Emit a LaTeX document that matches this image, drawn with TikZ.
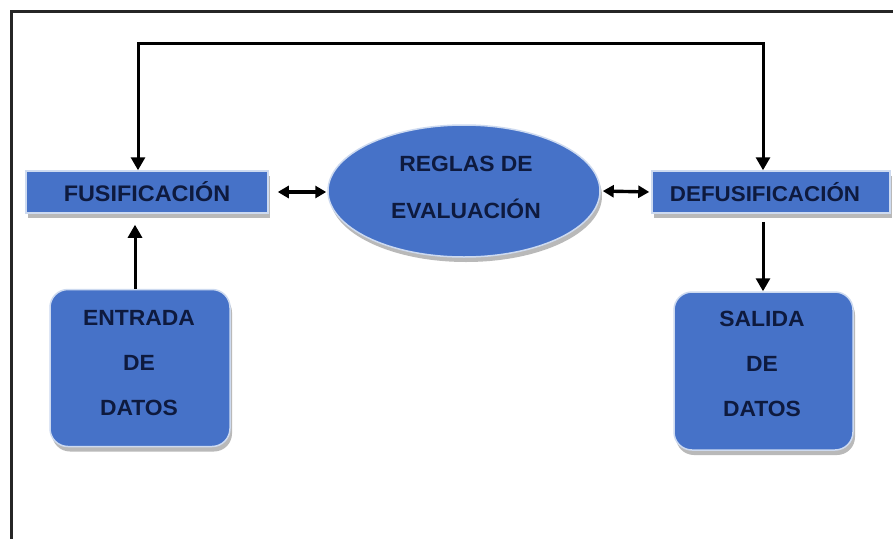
\documentclass[tikz,border=0pt]{standalone}
\usepackage{fontspec}
\newfontfamily\dfont[FakeStretch=1.04]{Liberation Sans}
\usetikzlibrary{arrows.meta,shapes.geometric,shadows}
\definecolor{boxblue}{RGB}{70,114,200}
\definecolor{txtnavy}{RGB}{14,26,62}
\definecolor{edgeblue}{RGB}{205,218,240}
\tikzset{
  blk/.style={fill=boxblue, draw=edgeblue, line width=1.5pt, text=txtnavy,
    drop shadow={shadow xshift=2pt, shadow yshift=-5pt, fill=gray!55, opacity=1}},
  bar/.style={blk, rectangle, inner sep=0pt, minimum height=42pt},
  rbox/.style={blk, rectangle, rounded corners=18pt, inner sep=0pt,
    minimum width=180pt, minimum height=157pt},
  oval/.style={blk, ellipse, inner sep=0pt, minimum width=272pt, minimum height=132pt},
  mltext/.style={align=center, inner sep=0pt, text=txtnavy,
    font=\dfont\bfseries\fontsize{22}{45}\selectfont},
  arr/.style={line width=3pt, draw=black, -{Triangle[length=13pt,width=14pt]}},
  darr/.style={line width=3pt, draw=black, {Triangle[length=13pt,width=14pt]}-{Triangle[length=13pt,width=14pt]}},
  sarr/.style={line width=3.4pt, draw=black, {Triangle[length=11pt,width=12pt]}-{Triangle[length=11pt,width=12pt]}},
}
\begin{document}
\begin{tikzpicture}[x=1pt,y=-1pt]
\useasboundingbox (0,0) rectangle (893,538);
\fill[white] (0,0) rectangle (893,538);
% frame
\draw[line width=3pt, black!85] (11,540) -- (11,11) -- (895,11);
% nodes
\node[bar, minimum width=242pt, font=\dfont\bfseries\fontsize{22.5}{22.5}\selectfont] (fus) at (147,192) {FUSIFICACIÓN};
\node[bar, minimum width=238pt, font=\dfont\bfseries\fontsize{21.5}{21.5}\selectfont] (defus) at (771,192) {\hspace*{-12pt}DEFUSIFICACIÓN};
\node[oval] (regl) at (464,191) {};
\node[mltext, font=\dfont\bfseries\fontsize{22}{47}\selectfont] (reglt) at (466,187) {REGLAS DE\\EVALUACIÓN};
\node[rbox] (ent) at (140,368) {};
\node[mltext] (entt) at (139,363) {ENTRADA\\DE\\DATOS};
\node[rbox, minimum width=179pt, minimum height=158pt] (sal) at (763.5,371) {};
\node[mltext] (salt) at (762,364) {SALIDA\\DE\\DATOS};
% coordinates
\coordinate (tl) at (138,43);
\coordinate (tr) at (763,43);
\coordinate (up) at (135,0);
% connectors
\draw[darr] (fus.north -| tl) -- (tl) -- (tr) -- (defus.north -| tr);
\draw[sarr, shorten <=9pt, shorten >=1pt] (fus.east) -- (fus.east -| regl.west);
\draw[sarr, shorten <=2pt, shorten >=2pt] (regl.east) -- (defus.west);
\draw[arr, shorten >=11pt] (ent.north -| up) -- (fus.south -| up);
\draw[arr, shorten <=8pt] (defus.south -| tr) -- (sal.north -| tr);
\end{tikzpicture}
\end{document}
